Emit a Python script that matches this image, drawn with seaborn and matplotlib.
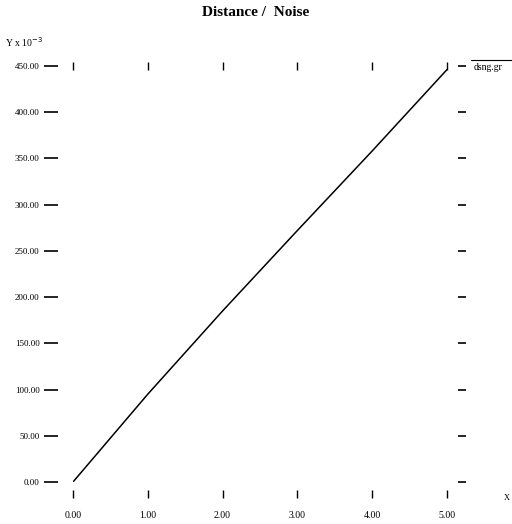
import seaborn as sns
import matplotlib.pyplot as plt
import pandas as pd

# values (y in units of 10^-3)
distance = [0.0, 1.0, 2.0, 3.0, 4.0, 5.0]
noise = [0.0, 95.0, 185.0, 272.0, 358.0, 446.0]
series_name = 'dsng.gr'

xticks = [0, 1, 2, 3, 4, 5]
yticks = [0, 50, 100, 150, 200, 250, 300, 350, 400, 450]

df = pd.DataFrame({'x': distance, 'y': noise})

sns.set_theme(style='white')
plt.rcParams['font.family'] = ['Liberation Serif', 'DejaVu Serif']
plt.rcParams['text.color'] = 'black'

fig = plt.figure(figsize=(5.12, 5.24), dpi=100)
ax = fig.add_axes([0.1426, 0.0802, 0.7304, 0.794])

sns.lineplot(data=df, x='x', y='y', color='black', linewidth=1.1, ax=ax)

# no frame, only floating tick marks
for s in ax.spines.values():
    s.set_visible(False)
ax.spines['left'].set_position(('outward', 11))
ax.spines['bottom'].set_position(('outward', 9))
ax.spines['right'].set_position(('outward', 8))

ax.set_xlim(0, 5)
ax.set_ylim(0, 450)
ax.set_xticks(xticks)
ax.set_yticks(yticks)
ax.set_xticklabels(['%.2f' % v for v in xticks])
ax.set_yticklabels(['%.2f' % v for v in yticks])
ax.set_xlabel('')
ax.set_ylabel('')

ax.tick_params(axis='y', left=True, right=True, direction='out', length=10,
               width=1.2, color='black', pad=3, labelsize=6.5,
               labelcolor='black')
ax.tick_params(axis='x', bottom=True, top=True, direction='inout', length=6,
               width=1.0, color='black', pad=9, labelsize=7,
               labelcolor='black')

# right ticks shorter
for t in ax.yaxis.get_major_ticks():
    t.tick2line.set_markersize(6)

fig.text(0.5, 0.977, 'Distance /  Noise', ha='center', va='center',
         fontsize=11, fontweight='bold', color='black')
fig.text(0.01, 0.92, r'Y x 10$^{-3}$', ha='left', va='center', fontsize=7,
         color='black')

# legend entry: label with a short line above it
ax.text(1.07, 0.996, series_name, transform=ax.transAxes, ha='left',
        va='center', fontsize=7, color='black')
ax.plot([1.065, 1.19], [1.015, 1.015], transform=ax.transAxes, color='black',
        linewidth=0.8, clip_on=False)
fig.text(0.984, 0.05, 'X', ha='left', va='center', fontsize=6, color='black')

plt.savefig('out.png', dpi=100)
